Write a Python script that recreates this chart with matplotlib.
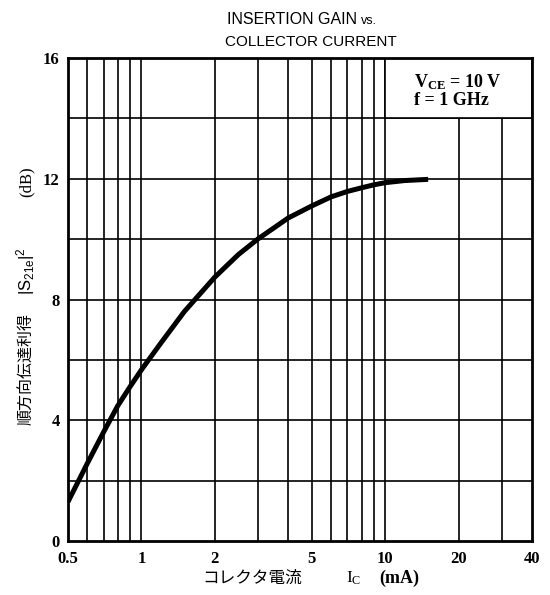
import matplotlib
matplotlib.use("Agg")
import matplotlib.pyplot as plt
from matplotlib.patches import Rectangle

# ---- data ----
ic_ma = [0.5, 0.6, 0.7, 0.8, 0.9, 1.0, 1.2, 1.5, 2.0, 2.5, 3.0, 4.0, 5.0, 6.0, 7.0, 8.0, 9.0, 10.0, 12.0, 15.0]
gain_db = [1.3, 2.57, 3.61, 4.48, 5.12, 5.67, 6.55, 7.6, 8.74, 9.49, 10.0, 10.7, 11.1, 11.4, 11.58, 11.7, 11.8, 11.87, 11.94, 11.98]

x_grid = [0.6, 0.7, 0.8, 0.9, 1, 2, 3, 4, 5, 6, 7, 8, 9, 10, 20, 30]
y_grid = [2, 4, 6, 8, 10, 12, 14]
x_ticks = [0.5, 1, 2, 5, 10, 20, 40]
x_ticklabels = ["0.5", "1", "2", "5", "10", "20", "40"]
y_ticks = [0, 4, 8, 12, 16]
y_ticklabels = ["0", "4", "8", "12", "16"]

W, H = 550, 595
plt.rcParams['mathtext.fontset'] = 'custom'
plt.rcParams['mathtext.rm'] = 'Liberation Serif'
plt.rcParams['mathtext.it'] = 'Liberation Serif:bold'
plt.rcParams['mathtext.bf'] = 'Liberation Serif:bold'
plt.rcParams['mathtext.sf'] = 'Liberation Sans'

SERIF = ['Liberation Serif', 'DejaVu Serif']
CJK = ['Noto Sans CJK JP', 'DejaVu Sans']
NARROW = ['Liberation Sans Narrow', 'Liberation Sans', 'DejaVu Sans']

fig = plt.figure(figsize=(W/100, H/100), dpi=100)
ax = fig.add_axes([68/W, 1-541/H, 464/W, 483/H])
ax.set_xscale('log')
ax.set_xlim(0.5, 40)
ax.set_ylim(0, 16)

for xv in x_grid:
    ax.axvline(xv, color='black', lw=1.2, zorder=1)
for yv in y_grid:
    ax.axhline(yv, color='black', lw=1.2, zorder=1)

# condition box
ax.add_patch(Rectangle((10, 14), 30, 2, facecolor='white', edgecolor='black',
                       lw=1.2, zorder=2))
ax.text(458/W, 1-91/H, "$\\mathbf{V_{CE}}$ = 10 V\nf = 1 GHz", transform=fig.transFigure,
        ha='center', va='center', multialignment='left', fontsize=13,
        family=SERIF, weight='bold', linespacing=1.0, zorder=3)

ax.plot(ic_ma, gain_db, color='black', lw=3.6, solid_capstyle='butt',
        solid_joinstyle='round', zorder=4)

for s in ax.spines.values():
    s.set_linewidth(2.0)
    s.set_zorder(5)

ax.set_xticks(x_ticks)
ax.set_xticklabels(x_ticklabels)
ax.xaxis.set_minor_locator(matplotlib.ticker.NullLocator())
ax.set_yticks(y_ticks)
ax.set_yticklabels(y_ticklabels)
ax.tick_params(axis='x', length=0, pad=7)
ax.tick_params(axis='y', length=0, pad=6)
for lab in ax.get_xticklabels() + ax.get_yticklabels():
    lab.set_fontfamily(SERIF)
    lab.set_fontweight('bold')
    lab.set_fontsize(12)

# ---- title ----
t1 = fig.text(0, 1-24/H, "INSERTION GAIN ", ha='left', va='baseline',
              family=NARROW, fontsize=11.5)
t1b = fig.text(0, 1-24/H, "vs.", ha='left', va='baseline', family=NARROW, fontsize=9)
t2 = fig.text(311/W, 1-46/H, "COLLECTOR CURRENT", ha='center', va='baseline',
              family=NARROW, fontsize=11)

# ---- x label pieces ----
xl_parts = [
    ("コレクタ電流", dict(family=CJK, fontsize=12), 0),
    ("$\\mathrm{I_C}$", dict(family=SERIF, fontsize=12.5), 44),
    ("(mA)", dict(family=SERIF, fontsize=13, weight='bold'), 18),
]
xl_texts = [fig.text(0, 1-583/H, s, ha='left', va='baseline', **kw) for s, kw, g in xl_parts]

# ---- y label pieces (rotated) ----
yl_parts = [
    ("順方向伝達利得", dict(family=CJK, fontsize=11.5), 0),
    ("$\\mathsf{|S_{21e}|^2}$", dict(family=SERIF, fontsize=12), 18),
    ("(dB)", dict(family=SERIF, fontsize=12), 50),
]
yl_texts = [fig.text(31/W, 0, s, rotation=90, rotation_mode='anchor', ha='left',
                     va='baseline', **kw) for s, kw, g in yl_parts]

fig.canvas.draw()
r = fig.canvas.get_renderer()

# center title line 1 at ~302 px
w1 = t1.get_window_extent(r).width
w2 = t1b.get_window_extent(r).width
x0 = 302 - (w1 + w2) / 2
t1.set_x(x0 / W)
t1b.set_x((x0 + w1) / W)

# place x label centered at 311 px
widths = [t.get_window_extent(r).width for t in xl_texts]
gaps = [g for s, kw, g in xl_parts]
total = sum(widths) + sum(gaps)
x = 311 - total / 2
for t, w, g in zip(xl_texts, widths, gaps):
    x += g
    t.set_x(x / W)
    x += w

# place y label: bottom of first piece at 425 px from top
heights = [t.get_window_extent(r).height for t in yl_texts]
ygaps = [g for s, kw, g in yl_parts]
y = H - 425
for t, h, g in zip(yl_texts, heights, ygaps):
    y += g
    t.set_y(y / H)
    y += h

fig.savefig("out.png", dpi=100)
